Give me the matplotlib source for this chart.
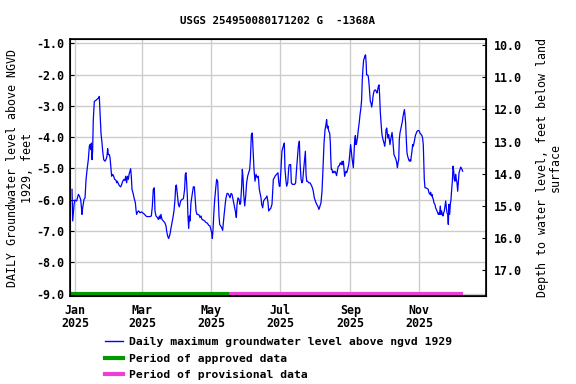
import numpy as np
import pandas as pd
import matplotlib
matplotlib.use("Agg")
import matplotlib.pyplot as plt
from matplotlib.lines import Line2D

# day offsets from 2025-01-01 and daily max level (ft above NGVD 1929)
days = [
    -2.9, -2.3, -1.1, -0.3, 1.2, 2.7, 3.6, 4.7, 5.3, 5.9, 6.5, 7.7, 8.6, 9.5, 10.6, 11.5,
    12.4, 13.0, 13.6, 14.2, 14.8, 15.3, 15.9, 16.8, 18.0, 19.5, 20.6, 21.2, 21.8, 22.7,
    23.6, 24.2, 25.1, 26.2, 27.1, 28.0, 28.6, 29.2, 30.1, 30.7, 31.3, 32.1, 33.0, 33.9,
    34.8, 36.0, 36.6, 37.1, 38.0, 38.9, 40.1, 41.0, 41.9, 43.0, 43.9, 44.5, 45.4, 46.0,
    46.9, 47.5, 48.3, 48.9, 49.5, 50.1, 51.3, 51.9, 53.1, 53.6, 54.2, 55.1, 56.0, 57.2,
    58.4, 59.5, 60.7, 61.9, 63.1, 64.5, 66.0, 67.2, 68.1, 68.9, 69.8, 70.4, 71.3, 72.5,
    73.4, 74.3, 74.8, 75.7, 76.6, 77.8, 79.0, 80.2, 80.7, 81.6, 82.5, 83.7, 84.9, 86.0,
    87.2, 88.1, 88.7, 89.3, 90.2, 91.1, 91.9, 93.1, 94.3, 95.5, 96.6, 97.2, 97.8, 98.4,
    99.0, 99.6, 100.2, 100.8, 101.4, 102.2, 103.1, 103.7, 104.3, 105.2, 105.8, 106.7,
    107.5, 108.4, 109.6, 110.2, 111.1, 111.9, 113.1, 114.3, 115.5, 116.7, 117.9, 119.0,
    119.6, 120.5, 121.1, 121.7, 122.6, 123.2, 124.0, 124.9, 125.8, 126.4, 127.0, 127.6,
    128.5, 129.3, 130.2, 130.8, 131.4, 132.0, 132.6, 133.2, 134.1, 134.9, 135.8, 136.7,
    137.6, 138.5, 139.1, 139.9, 140.8, 141.7, 142.3, 142.9, 143.8, 144.7, 145.5, 146.1,
    147.0, 147.6, 148.2, 148.8, 149.7, 150.6, 151.4, 152.3, 153.2, 154.1, 154.7, 155.6,
    156.4, 157.0, 157.9, 158.8, 159.7, 160.9, 161.7, 162.6, 163.2, 164.1, 164.7, 165.6,
    166.4, 167.3, 168.5, 169.4, 170.3, 170.9, 171.5, 172.6, 173.8, 174.4, 175.0, 175.9,
    176.8, 177.9, 179.1, 179.7, 180.3, 180.9, 181.8, 182.6, 183.8, 184.7, 185.3, 186.2,
    186.8, 187.7, 188.6, 189.1, 190.3, 190.9, 191.8, 192.7, 193.9, 194.7, 195.6, 197.1,
    198.0, 198.6, 199.5, 200.3, 200.9, 201.8, 203.3, 203.9, 204.5, 205.3, 206.2, 207.4,
    208.6, 209.5, 210.3, 211.2, 212.1, 213.3, 214.2, 215.3, 216.2, 217.1, 218.0, 218.6,
    219.8, 220.7, 221.5, 222.1, 222.7, 223.3, 223.9, 224.8, 225.4, 225.7, 226.2, 226.8,
    227.4, 228.0, 228.6, 229.5, 230.1, 230.9, 231.5, 232.4, 233.3, 234.2, 235.1, 235.7,
    236.3, 236.9, 237.4, 238.0, 238.6, 239.2, 239.8, 240.7, 241.6, 242.1, 243.3, 243.9,
    244.5, 245.7, 246.9, 247.5, 248.0, 248.6, 249.5, 250.1, 251.0, 251.6, 252.4, 253.0,
    253.6, 254.2, 254.8, 255.4, 255.9, 256.5, 257.1, 257.4, 258.3, 258.9, 259.5, 260.1,
    260.7, 261.3, 261.9, 262.5, 263.1, 263.6, 264.2, 265.1, 266.0, 266.6, 267.2, 267.8,
    268.4, 268.9, 269.5, 270.4, 271.0, 271.9, 272.8, 273.4, 274.0, 274.6, 275.2, 275.7,
    276.3, 276.9, 277.5, 278.1, 278.7, 279.3, 279.9, 280.4, 281.0, 281.6, 282.2, 282.8,
    283.4, 284.0, 284.6, 285.2, 285.8, 286.3, 286.9, 287.5, 288.4, 289.0, 289.6, 290.2,
    290.8, 291.3, 291.9, 292.5, 293.1, 293.7, 294.6, 295.2, 295.8, 296.4, 296.9, 297.5,
    298.1, 298.7, 299.3, 299.9, 300.5, 301.1, 301.9, 302.8, 303.7, 304.6, 305.4, 306.3,
    306.9, 307.5, 307.8, 308.4, 309.0, 309.9, 311.1, 311.9, 312.5, 313.4, 314.0, 314.6,
    315.2, 315.8, 316.4, 316.9, 317.8, 318.4, 319.0, 319.6, 320.2, 320.8, 321.4, 321.9,
    322.5, 323.1, 323.7, 324.3, 324.9, 325.5, 326.1, 326.7, 327.3, 327.9, 328.5, 329.1,
    329.6, 330.2, 330.8, 331.4, 332.0, 332.6, 333.2, 333.8, 334.4, 334.9, 335.5, 336.1,
    336.7, 337.3, 337.9, 338.5, 339.1, 340.0, 340.6, 341.2, 341.7, 342.3,
]
levels = [
    -5.67, -6.68, -6.15, -6.01, -6.04, -5.83, -5.88, -5.99, -6.20, -6.47, -6.26, -5.99, -5.94, -5.35, -4.98, -4.72,
    -4.29, -4.24, -4.40, -4.19, -4.72, -4.45, -3.44, -2.86, -2.83, -2.78, -2.75, -2.70, -3.18, -3.87,
    -4.19, -4.45, -4.72, -4.77, -4.72, -4.61, -4.37, -4.56, -4.56, -4.66, -4.93, -5.25, -5.19, -5.25,
    -5.35, -5.38, -5.46, -5.41, -5.48, -5.55, -5.59, -5.51, -5.41, -5.35, -5.39, -5.25, -5.46, -5.25,
    -5.35, -5.19, -5.09, -5.01, -5.25, -5.67, -5.83, -5.94, -6.10, -6.31, -6.47, -6.39, -6.36, -6.42,
    -6.39, -6.42, -6.45, -6.50, -6.54, -6.54, -6.54, -6.52, -6.20, -5.67, -5.62, -6.36, -6.52, -6.57,
    -6.63, -6.52, -6.61, -6.47, -6.63, -6.68, -6.73, -6.84, -7.00, -7.16, -7.24, -7.10, -6.84, -6.63,
    -6.36, -5.99, -5.57, -5.53, -5.83, -6.15, -6.23, -6.04, -5.99, -5.97, -5.67, -5.19, -5.14, -5.46,
    -5.88, -6.57, -6.92, -6.52, -6.68, -6.10, -5.88, -5.73, -5.59, -5.59, -5.88, -6.36,
    -6.47, -6.47, -6.50, -6.57, -6.52, -6.63, -6.65, -6.68, -6.73, -6.75, -6.82, -6.84,
    -6.92, -7.05, -7.24, -6.95, -6.31, -5.99, -5.67, -5.35, -5.41, -5.99, -6.52, -6.79,
    -6.84, -6.89, -6.98, -6.73, -6.52, -6.31, -6.10, -5.94, -5.80, -5.80, -5.86, -5.94,
    -5.80, -5.83, -5.94, -6.10, -6.26, -6.42, -6.57, -6.15, -5.94, -5.99, -6.15, -6.10,
    -5.57, -5.03, -5.30, -5.83, -6.20, -5.88, -5.46, -5.25, -5.14, -5.03, -4.72, -3.92,
    -3.87, -4.34, -5.03, -5.41, -5.19, -5.30, -5.25, -5.67, -5.78, -5.94, -6.15, -6.26,
    -6.04, -5.99, -5.94, -5.88, -6.10, -6.36, -6.31, -6.29, -6.15, -5.78, -5.35, -5.30,
    -5.23, -5.19, -5.14, -5.41, -5.57, -5.57, -4.98, -4.45, -4.29, -4.19, -5.03, -5.41,
    -5.57, -5.46, -4.98, -4.88, -4.88, -5.46, -5.51, -5.51, -5.51, -5.46, -4.98, -4.29,
    -4.13, -4.82, -5.35, -5.46, -5.41, -5.03, -4.45, -5.19, -5.41, -5.41, -5.46, -5.46,
    -5.54, -5.62, -5.73, -5.94, -6.04, -6.15, -6.20, -6.31, -6.20, -6.10, -5.73, -5.25,
    -4.19, -3.76, -3.60, -3.44, -3.71, -3.65, -3.81, -3.87, -4.19, -4.61, -5.03, -5.03,
    -5.14, -5.09, -5.14, -5.09, -5.14, -5.23, -5.09, -4.93, -4.91, -4.82, -4.88, -4.77,
    -4.88, -4.77, -4.98, -5.25, -5.14, -5.09, -5.14, -5.03, -4.88, -4.72, -4.24, -4.45,
    -4.66, -4.98, -4.08, -3.95, -4.24, -4.19, -3.97, -3.76, -3.50, -3.28, -3.07, -2.81,
    -2.17, -1.80, -1.53, -1.48, -1.40, -1.37, -1.69, -2.01, -2.01, -2.06, -2.27, -2.59,
    -2.86, -2.91, -3.04, -2.91, -2.70, -2.59, -2.51, -2.49, -2.54, -2.59, -2.49, -2.38,
    -2.33, -2.65, -3.18, -3.66, -3.92, -4.08, -4.19, -4.29, -4.13, -3.76, -3.71, -3.87,
    -4.03, -3.92, -4.08, -4.24, -4.08, -3.97, -3.85, -4.03, -4.29, -4.56, -4.61, -4.66,
    -4.72, -4.82, -4.98, -4.82, -4.72, -4.08, -3.87, -3.76, -3.60, -3.50, -3.34, -3.23,
    -3.12, -3.28, -3.55, -4.08, -4.50, -4.61, -4.72, -4.77, -4.72, -4.77, -4.61, -4.45,
    -4.24, -4.29, -4.19, -4.08, -3.95, -3.89, -3.82, -3.79, -3.79, -3.87, -3.91, -3.95,
    -4.03, -4.24, -4.61, -5.35, -5.62, -5.62, -5.65, -5.67, -5.78, -5.83, -5.76, -5.88,
    -5.83, -5.94, -5.99, -6.10, -6.15, -6.26, -6.31, -6.36, -6.42, -6.47, -6.42, -6.47,
    -6.20, -6.47, -6.36, -6.47, -6.52, -6.42, -6.36, -6.20, -6.04, -6.26, -6.42, -6.47,
    -6.79, -6.15, -6.47, -6.15, -5.99, -5.67, -5.41, -4.93, -5.09, -5.35, -5.41, -5.19,
    -5.35, -5.46, -5.73, -5.41, -5.14, -5.03, -4.96, -5.01, -5.03, -5.09,
]

# approval periods (day offsets)
approved = (-4.7, 135.8)
provisional = (135.8, 342.6)

left_ticks = [-1.0, -2.0, -3.0, -4.0, -5.0, -6.0, -7.0, -8.0, -9.0]
right_ticks = [10.0, 11.0, 12.0, 13.0, 14.0, 15.0, 16.0, 17.0]
month_ticks = ["2025-01-01", "2025-03-01", "2025-05-01", "2025-07-01", "2025-09-01", "2025-11-01"]
month_labels = ["Jan\n2025", "Mar\n2025", "May\n2025", "Jul\n2025", "Sep\n2025", "Nov\n2025"]

start = pd.Timestamp("2025-01-01")
def to_date(d):
    return start + pd.to_timedelta(np.asarray(d, dtype=float), unit="D")

plt.rcParams["font.family"] = "DejaVu Sans Mono"
plt.rcParams["font.weight"] = "bold"
plt.rcParams["font.size"] = 8.4

fig = plt.figure(figsize=(5.76, 3.84), dpi=100)
ax = fig.add_axes([0.1215, 0.229, 0.7222, 0.669])

ax.plot(to_date(days), levels, color="#0000ff", lw=0.9)
ax.plot(to_date(approved), [-9.0, -9.0], color="#009900", lw=3, solid_capstyle="butt")
ax.plot(to_date(provisional), [-9.0, -9.0], color="#ee3ed8", lw=3, solid_capstyle="butt")

ax.set_xlim(to_date([-4.7, 362.9]))
ax.set_ylim(-9.08, -0.87)
ax.set_yticks(left_ticks)
ax.set_yticklabels([f"{v:.1f}" for v in left_ticks])
ax.set_xticks(pd.to_datetime(month_ticks))
ax.set_xticklabels(month_labels, linespacing=1.0)
ax.grid(True, color="#cccccc", lw=1.0)
ax.set_axisbelow(True)
ax.tick_params(direction="in", length=3, width=0.8, pad=4)
ax.tick_params(axis="x", pad=6)
for s in ax.spines.values():
    s.set_linewidth(1.2)
ax.set_ylabel("DAILY Groundwater level above NGVD\n1929, feet", labelpad=2)

ax2 = ax.twinx()
ax2.set_ylim(17.81, 9.81)
ax2.set_yticks(right_ticks)
ax2.set_yticklabels([f"{v:.1f}" for v in right_ticks])
ax2.tick_params(direction="in", length=3, width=0.8, pad=6)
ax2.set_ylabel("Depth to water level, feet below land\nsurface", labelpad=10,
               linespacing=1.0)

ax.set_title("USGS 254950080171202 G  -1368A", fontsize=7.8, fontweight="bold", pad=11)

handles = [
    Line2D([], [], color="#0000ff", lw=1),
    Line2D([], [], color="#009900", lw=3),
    Line2D([], [], color="#ee3ed8", lw=3),
]
labels = [
    "Daily maximum groundwater level above ngvd 1929",
    "Period of approved data",
    "Period of provisional data",
]
fig.legend(handles, labels, loc="upper left", bbox_to_anchor=(0.172, 0.137),
           frameon=False, fontsize=8.2, handlelength=1.6, handletextpad=0.5,
           labelspacing=0.58, borderpad=0)

fig.savefig("out.png", dpi=100)
